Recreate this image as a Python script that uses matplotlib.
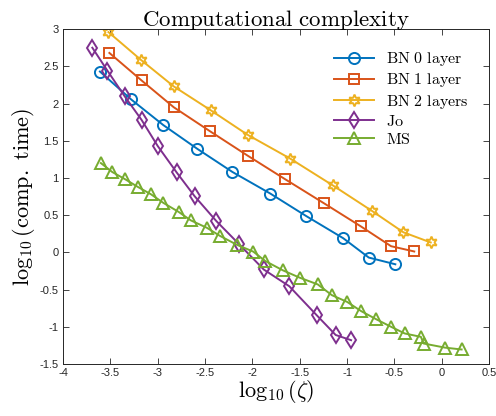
import numpy as np
import matplotlib
matplotlib.use("Agg")
import matplotlib.pyplot as plt

plt.rcParams["mathtext.fontset"] = "cm"
plt.rcParams["font.family"] = ["Liberation Sans", "DejaVu Sans"]

# values (log10 scale)
bn0_x = [-3.61, -3.28, -2.94, -2.58, -2.21, -1.81, -1.43, -1.04, -0.77, -0.49]
bn0_y = [2.43, 2.055, 1.71, 1.39, 1.08, 0.79, 0.487, 0.19, -0.07, -0.16]

bn1_x = [-3.51, -3.17, -2.83, -2.45, -2.05, -1.655, -1.24, -0.855, -0.535, -0.29]
bn1_y = [2.68, 2.31, 1.95, 1.63, 1.30, 0.984, 0.657, 0.35, 0.083, 0.012]

bn2_x = [-3.52, -3.18, -2.83, -2.44, -2.05, -1.60, -1.15, -0.74, -0.405, -0.116]
bn2_y = [2.96, 2.59, 2.23, 1.91, 1.58, 1.26, 0.90, 0.56, 0.27, 0.133]

jo_x = [-3.69, -3.53, -3.35, -3.17, -3.0, -2.80, -2.61, -2.38, -2.14, -1.88,
        -1.61, -1.32, -1.12, -0.957]
jo_y = [2.75, 2.44, 2.10, 1.78, 1.43, 1.075, 0.755, 0.42, 0.11, -0.23,
        -0.455, -0.845, -1.11, -1.18]

ms_x = [-3.60, -3.48, -3.34, -3.21, -3.07, -2.94, -2.78, -2.65, -2.48, -2.34,
        -2.16, -1.99, -1.865, -1.68, -1.50, -1.31, -1.16, -1.00, -0.85, -0.69,
        -0.535, -0.39, -0.22, -0.19, 0.035, 0.21]
ms_y = [1.20, 1.08, 0.98, 0.88, 0.78, 0.665, 0.545, 0.43, 0.33, 0.22,
        0.10, 0.01, -0.115, -0.24, -0.34, -0.43, -0.575, -0.665, -0.79, -0.90,
        -1.0, -1.09, -1.135, -1.225, -1.28, -1.305]

# colour, marker, marker size, label
series = [
    (bn0_x, bn0_y, "#0072BD", "o", 8, r"$\mathrm{BN\ 0\ layer}$"),
    (bn1_x, bn1_y, "#D95319", "s", 6.5, r"$\mathrm{BN\ 1\ layer}$"),
    (bn2_x, bn2_y, "#EDB120", (6, 1, 0), 8.5, r"$\mathrm{BN\ 2\ layers}$"),
    (jo_x, jo_y, "#7E2F8E", "d", 8.5, r"$\mathrm{Jo}$"),
    (ms_x, ms_y, "#77AC30", "^", 8, r"$\mathrm{MS}$"),
]

fig = plt.figure(figsize=(4.96, 4.16), dpi=100)
ax = fig.add_axes([0.127, 0.125, 0.859, 0.805])

for xs, ys, c, m, ms, lab in series:
    ax.plot(xs, ys, color=c, marker=m, markersize=ms, markerfacecolor="none",
            markeredgewidth=1.4, linewidth=1.4, label=lab)

ax.set_xlim(-4, 0.5)
ax.set_ylim(-1.5, 3)
ax.set_xticks(np.arange(-4, 0.51, 0.5))
ax.set_yticks(np.arange(-1.5, 3.01, 0.5))
ax.set_xticklabels(["-4", "-3.5", "-3", "-2.5", "-2", "-1.5", "-1", "-0.5", "0", "0.5"])
ax.set_yticklabels(["-1.5", "-1", "-0.5", "0", "0.5", "1", "1.5", "2", "2.5", "3"])
ax.tick_params(direction="in", top=True, right=True, labelsize=8, length=4,
               width=0.6, colors="#262626", pad=3)
for s in ax.spines.values():
    s.set_linewidth(0.7)
    s.set_color("#262626")

ax.set_title(r"$\mathrm{Computational\ complexity}$", fontsize=16.5, pad=2)
ax.set_xlabel(r"$\log_{10}(\zeta)$", fontsize=16, labelpad=0)
ax.set_ylabel(r"$\log_{10}(\mathrm{comp.\ time})$", fontsize=16, labelpad=2)

ax.legend(loc="upper right", frameon=False, fontsize=11.5, handlelength=2.5,
          borderaxespad=0.6, labelspacing=0.2, bbox_to_anchor=(0.99, 0.985))

fig.savefig("out.png", dpi=100)
